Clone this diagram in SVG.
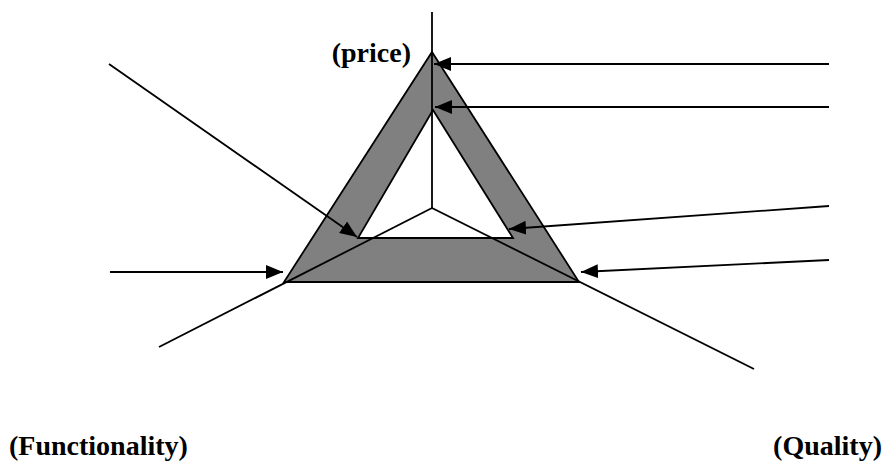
<svg xmlns="http://www.w3.org/2000/svg" width="889" height="465" viewBox="0 0 889 465">
<style>
.ln{stroke:#000;stroke-width:1.8;fill:none}
.lbl{font-family:"Liberation Serif","Times New Roman",serif;font-weight:bold;font-size:28px;fill:#000}
</style>
<defs>
<marker id="ah" markerUnits="userSpaceOnUse" markerWidth="18" markerHeight="14" refX="17" refY="7" orient="auto">
<path d="M0,0 L17,7 L0,14 z" fill="#000"/>
</marker>
</defs>
<rect width="889" height="465" fill="#fff"/>
<g id="triangle">
<path d="M432,52 L579,282 L284,282 Z M433,110 L358,238 L513,238 Z" fill="#808080" fill-rule="evenodd" stroke="#000" stroke-width="1.8"/>
</g>
<g id="axes">
<line class="ln" x1="432" y1="12" x2="432" y2="208"/>
<line class="ln" x1="432" y1="208" x2="159" y2="347"/>
<line class="ln" x1="432" y1="208" x2="754" y2="369"/>
</g>
<g id="connectors">
<line class="ln" x1="829" y1="64" x2="434" y2="64" marker-end="url(#ah)"/>
<line class="ln" x1="829" y1="107" x2="435" y2="107" marker-end="url(#ah)"/>
<line class="ln" x1="829" y1="206" x2="509" y2="229" marker-end="url(#ah)"/>
<line class="ln" x1="829" y1="260" x2="581" y2="272" marker-end="url(#ah)"/>
<line class="ln" x1="110" y1="272" x2="283" y2="272" marker-end="url(#ah)"/>
<line class="ln" x1="109" y1="64" x2="357" y2="237" marker-end="url(#ah)"/>
</g>
<g id="labels">
<text class="lbl" x="411" y="62" text-anchor="end">(price)</text>
<text class="lbl" x="9" y="455">(Functionality)</text>
<text class="lbl" x="882" y="455" text-anchor="end">(Quality)</text>
</g>
</svg>
